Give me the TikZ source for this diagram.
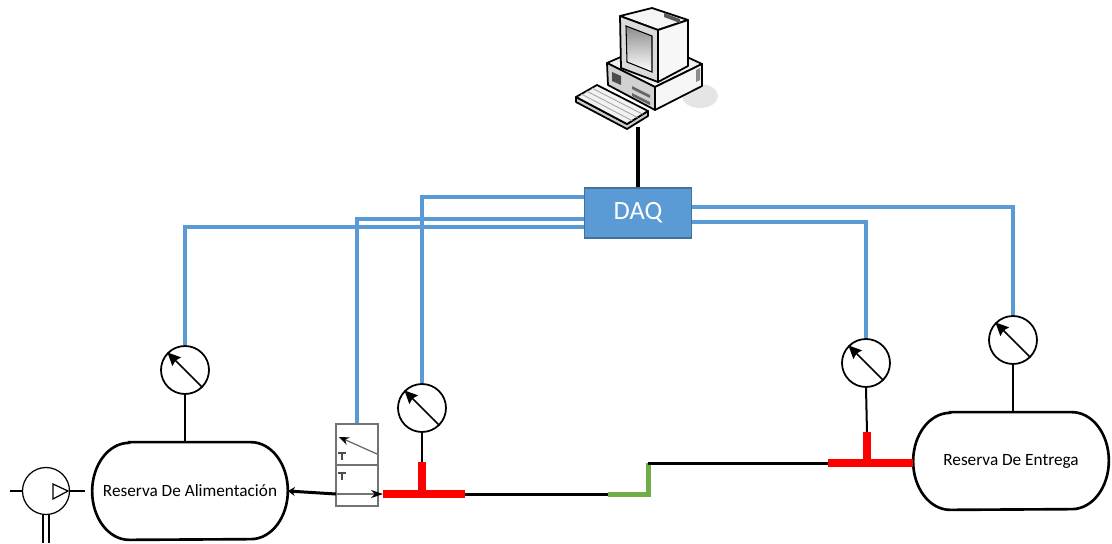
\documentclass[tikz,border=0pt]{standalone}
\usepackage{fontspec}
\setmainfont{Carlito}
\usepackage{tikz}
\usetikzlibrary{positioning}
\usetikzlibrary{arrows.meta}
\usetikzlibrary{calc}

\definecolor{daqblue}{HTML}{5B9BD5}
\definecolor{daqedge}{HTML}{41719C}
\definecolor{teered}{HTML}{FF0000}
\definecolor{pipegreen}{HTML}{70AD47}

% outline of a reservoir node (flat top and bottom, elliptic ends)
\newcommand{\tankoutline}[1]{%
  \draw[line width=1.5pt] ([xshift=7.4mm]#1.north west) -- ([xshift=-7.4mm]#1.north east)
    arc[start angle=90,end angle=-90,x radius=7.4mm,y radius=9.7mm]
    -- ([xshift=7.4mm]#1.south west)
    arc[start angle=270,end angle=90,x radius=7.4mm,y radius=9.7mm] -- cycle;}

\begin{document}
\begin{tikzpicture}[x=0.2mm,y=-0.2mm,
  wire/.style={daqblue,line width=2.2pt},
  pipe/.style={black,line width=0.6mm},
  tap/.style={black,line width=0.4mm},
  tee/.style={teered,line width=1.7mm},
  gauge/.style={draw,circle,line width=1pt,minimum size=9.6mm,inner sep=0pt},
  tank/.style={minimum width=39mm,minimum height=19.4mm,inner sep=0pt,font=\fontsize{9.8}{12}\selectfont},
  needle/.style={line width=1pt,-{Stealth[length=2.6mm,width=2.4mm,inset=0.3mm]}}]

\useasboundingbox (0,0) rectangle (1112,543);

% --- Computer ---
\fill[black!10] (700,96) ellipse [x radius=18, y radius=12];
% base
\filldraw[fill=black!6,line width=1pt,line join=round] (607,63) -- (655,87) -- (702,64) -- (655,42) -- cycle;
\filldraw[fill=black!18,line width=1pt,line join=round] (607,63) -- (655,87) -- (655,110) -- (608,85) -- cycle;
\filldraw[fill=black!4,line width=1pt,line join=round] (655,87) -- (702,64) -- (702,86) -- (655,110) -- cycle;
\fill[black!70] (612,72) -- (621,76) -- (621,85) -- (612,81) -- cycle;
\fill[black!60] (632,86) -- (650,95) -- (650,98) -- (632,89) -- cycle;
\fill[black!60] (632,93) -- (650,102) -- (650,105) -- (632,96) -- cycle;
\fill[black!45] (696,70) -- (700,68) -- (700,80) -- (696,82) -- cycle;
% monitor
\filldraw[fill=black!4,line width=1pt,line join=round] (620,16) -- (658,30) -- (688,20) -- (652,8) -- cycle;
\filldraw[fill=black!14,line width=1pt,line join=round] (620,16) -- (658,30) -- (658,82) -- (621,68) -- cycle;
\filldraw[fill=black!3,line width=1pt,line join=round] (658,30) -- (688,20) -- (688,66) -- (658,82) -- cycle;
\fill[black!65] (664,13) -- (680,19) -- (680,23) -- (664,17) -- cycle;
\draw[line width=0.6pt,top color=black!45,bottom color=white] (626,26) -- (652,36) -- (652,72) -- (627,62) -- cycle;
% keyboard
\filldraw[fill=black!20,line width=1pt,line join=round] (576,97) -- (576,102) -- (627,129) -- (648,116) -- (648,111) -- (627,124) -- cycle;
\filldraw[fill=black!5,line width=1pt,line join=round] (576,97) -- (597,85) -- (648,111) -- (627,124) -- cycle;
\foreach \k in {0.25,0.5,0.75}
  \draw[black!35,line width=0.5pt] ($(576,97)!\k!(597,85)$) -- ($(627,124)!\k!(648,111)$);
\coordinate (pc) at (638,127);

% --- DAQ ---
\node[draw=daqedge,fill=daqblue,line width=1pt,minimum width=21.4mm,minimum height=10mm,
      text=white,font=\fontsize{15}{18}\selectfont] (daq) at (638,213) {DAQ};
\draw[line width=0.7mm] (pc) -- (daq.north);

% --- Tanks ---
\node[tank] (tankA) at (190,491) {Reserva De Alimentación};
\tankoutline{tankA}
\node[tank] (tankB) at (1011,461) {Reserva De Entrega};
\tankoutline{tankB}

% --- Pump ---
\draw[line width=0.7pt] (46,491) circle [radius=4.7mm];
\draw[line width=0.7pt] (53,484) -- (68,491) -- (53,499) -- cycle;
\draw[line width=0.7pt] (10,491) -- (23,491);
\draw[line width=0.7pt] (69,491) -- (85,491);
\draw[line width=0.7pt] (43,515) -- (43,543);
\draw[line width=0.7pt] (49,515) -- (49,543);

% --- Valve ---
\node[draw=black!55,line width=0.6pt,minimum width=8.4mm,minimum height=16.4mm,inner sep=0pt] (valve) at (357,465) {};
\draw[black!55,line width=0.6pt] (valve.west) -- (valve.east);
\draw[black!60,line width=0.7pt,-{Stealth[length=2mm,width=1.6mm,black]}] (377,454) -- (339,437);
\draw[black!70,line width=0.6pt] (338,453) -- (346,453) (342,453) -- (342,460);
\draw[black!70,line width=0.6pt] (338,473) -- (346,473) (342,473) -- (342,480);
\coordinate (vin) at (336,494);

% --- Gauges ---
\node[gauge] (gA) at (185,370) {};
\node[gauge] (gB) at (422,408) {};
\node[gauge] (gC) at (866,363) {};
\node[gauge] (gD) at (1013,340) {};
\foreach \g in {gA,gB,gC,gD}
  \draw[needle] (\g.south east) -- (\g.north west);

% --- Pipe line ---
\coordinate (teeAw) at (383,494);
\coordinate (teeA) at (422,494);
\coordinate (teeAt) at (422,462);
\coordinate (teeAe) at (465,494);
\coordinate (bendA) at (608,494);
\coordinate (bendB) at (648,494);
\coordinate (bendC) at (648,463);
\coordinate (teeBw) at (828,463);
\coordinate (teeB) at (867,463);
\coordinate (teeBt) at (867,432);

\draw[pipe,{Stealth[length=1.4mm,width=1.8mm]}-] (tankA.east) -- (vin);
\draw[black!55,line width=0.6pt,-{Stealth[length=2.4mm,width=1.6mm,black]}] (vin) -- (teeAw);
\draw[tee] (teeAw) -- (teeAe);
\draw[tee] (teeA) -- (teeAt);
\draw[pipe] (teeAe) -- (bendA);
\draw[pipegreen,line width=1mm] (bendA) -- (bendB) -- (bendC);
\draw[pipe] (bendC) -- (teeBw);
\draw[tee] (teeBw) -- (tankB.west |- teeB);
\draw[tee] (teeB) -- (teeBt);

% --- Gauge taps ---
\draw[tap] (gA.south) -- (gA.south |- tankA.north);
\draw[tap] (gB.south) -- (teeAt);
\draw[tap] (gC.south) -- (teeBt);
\draw[tap] (gD.south) -- (gD.south |- tankB.north);

% --- Signal wires ---
\draw[wire] ([yshift=3.2mm]daq.west) -| (gB.north);
\draw[wire] ([yshift=-1.2mm]daq.west) -| (valve.north);
\draw[wire] ([yshift=-2.8mm]daq.west) -| (gA.north);
\draw[wire] ([yshift=1.2mm]daq.east) -| (gD.north);
\draw[wire] ([yshift=-1.8mm]daq.east) -| (gC.north);

\end{tikzpicture}
\end{document}
